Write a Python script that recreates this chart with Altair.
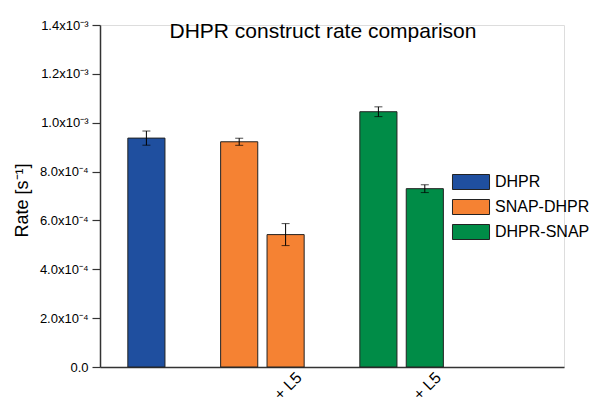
import altair as alt
import pandas as pd

# ---- data ----
groups = ["DHPR", "SNAP-DHPR", "SNAP-DHPR + L5", "DHPR-SNAP", "DHPR-SNAP + L5"]
constructs = ["DHPR", "SNAP-DHPR", "SNAP-DHPR", "DHPR-SNAP", "DHPR-SNAP"]
rates = [9.37e-4, 9.22e-4, 5.42e-4, 1.045e-3, 7.30e-4]
errors = [2.9e-5, 1.45e-5, 4.5e-5, 2.0e-5, 1.6e-5]

x_domain = ["DHPR", " ", "SNAP-DHPR", "SNAP-DHPR + L5", "  ",
            "DHPR-SNAP", "DHPR-SNAP + L5", "   ", "    "]
legend_names = ["DHPR", "SNAP-DHPR", "DHPR-SNAP"]
colors = ["#1f4f9f", "#f58233", "#008c47"]

y_tick_values = [0.0, 1e-4, 2e-4, 3e-4, 4e-4, 5e-4, 6e-4, 7e-4,
                 8e-4, 9e-4, 1.0e-3, 1.1e-3, 1.2e-3, 1.3e-3, 1.4e-3]
y_tick_labels = ["0.0", "", "2.0x10⁻⁴", "", "4.0x10⁻⁴", "", "6.0x10⁻⁴", "",
                 "8.0x10⁻⁴", "", "1.0x10⁻³", "", "1.2x10⁻³", "", "1.4x10⁻³"]

df = pd.DataFrame({
    "group": groups,
    "construct": constructs,
    "rate": rates,
    "err": errors,
})
df["lo"] = df["rate"] - df["err"]
df["hi"] = df["rate"] + df["err"]

label_array = "[" + ",".join("'" + s + "'" for s in y_tick_labels) + "]"

FONT = "Liberation Sans"

x_enc = alt.X(
    "group:N",
    scale=alt.Scale(domain=x_domain, paddingInner=0.2, paddingOuter=0.6),
    sort=x_domain,
    axis=alt.Axis(
        title=None,
        ticks=False,
        labelAngle=-45,
        labelFontSize=16,
        labelFont=FONT,
        labelColor="black",
        labelPadding=2,
        labelOffset=8,
        labelExpr="indexof(datum.value, '+ L5') >= 0 ? '+ L5' : ''",
        domainColor="#333333",
        domainWidth=1.5,
    ),
)

y_scale = alt.Scale(domain=[0, 1.4e-3], nice=False)

bars = alt.Chart(df).mark_bar(stroke="#222222", strokeWidth=1).encode(
    x=x_enc,
    y=alt.Y(
        "rate:Q",
        scale=y_scale,
        axis=alt.Axis(
            title="Rate [s⁻¹]",
            titleFontSize=18,
            titleFont=FONT,
            titleFontWeight="normal",
            titleColor="black",
            titleX=-78,
            titleY=175,
            titleAlign="center",
            titleBaseline="middle",
            titleAngle=-90,
            values=y_tick_values,
            labelExpr=label_array + "[round(datum.value*10000)]",
            labelFontSize=13,
            labelFont=FONT,
            labelColor="black",
            labelPadding=4,
            grid=False,
            domainColor="#333333",
            domainWidth=1.5,
            tickColor="#333333",
            tickWidth=1.2,
            tickSize={"condition": {"test": "round(datum.value*10000) % 2 === 0", "value": 8}, "value": 4},
        ),
    ),
    color=alt.Color(
        "construct:N",
        scale=alt.Scale(domain=legend_names, range=colors),
        legend=alt.Legend(
            title=None,
            orient="none",
            legendX=363,
            legendY=149,
            symbolType="M-2.47,-1H2.47V1H-2.47Z",
            symbolSize=225,
            symbolStrokeColor="#222222",
            symbolStrokeWidth=1,
            symbolOpacity=1,
            labelFontSize=16,
            labelFont=FONT,
            labelColor="black",
            rowPadding=5,
            labelOffset=16,
        ),
    ),
)

err_rule = alt.Chart(df).mark_rule(color="black", strokeWidth=1).encode(
    x=alt.X("group:N", scale=alt.Scale(domain=x_domain), sort=x_domain),
    y=alt.Y("lo:Q", scale=y_scale),
    y2="hi:Q",
)
err_lo = alt.Chart(df).mark_tick(color="black", size=8, thickness=1).encode(
    x=alt.X("group:N", scale=alt.Scale(domain=x_domain), sort=x_domain),
    y=alt.Y("lo:Q", scale=y_scale),
)
err_hi = alt.Chart(df).mark_tick(color="black", size=8, thickness=1).encode(
    x=alt.X("group:N", scale=alt.Scale(domain=x_domain), sort=x_domain),
    y=alt.Y("hi:Q", scale=y_scale),
)

chart = alt.layer(bars, err_rule, err_lo, err_hi).properties(
    width=464,
    height=342,
    autosize="none",
    padding={"left": 100, "top": 25, "right": 31, "bottom": 31},
    title=alt.TitleParams(
        "DHPR construct rate comparison",
        fontSize=21,
        font=FONT,
        fontWeight="normal",
        color="black",
        anchor="middle",
        offset=0,
        baseline="alphabetic",
        dx=-9,
        dy=40,
    ),
).configure_view(stroke=None).configure(background="white")

chart.save("out.html", embed_options={"renderer": "svg", "actions": False})
